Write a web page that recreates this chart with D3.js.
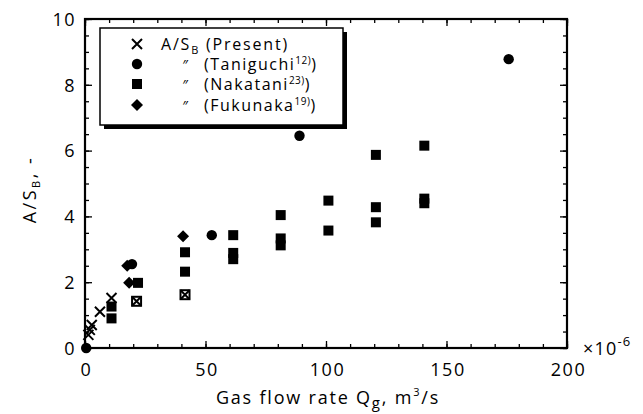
<!DOCTYPE html>
<html><head><meta charset="utf-8">
<script src="https://cdn.jsdelivr.net/npm/d3@7"></script>
<style>
body{margin:0;background:#fff;}
svg{display:block;font-family:"Open Sans",sans-serif;}
</style></head>
<body>
<script>
// ---- data ----
const xTicks = [0, 50, 100, 150, 200];
const yTicks = [0, 2, 4, 6, 8, 10];
const presentQ = [1.4, 2.0, 2.8, 6.2, 11];
const presentA = [0.4, 0.55, 0.7, 1.1, 1.52];
const overlapQ = [21.4, 41.5];          // × on top of a square
const overlapA = [1.42, 1.62];
const taniguchiQ = [0.5, 19.5, 52.6, 89, 175.8];
const taniguchiA = [0, 2.55, 3.43, 6.45, 8.78];
const nakataniQ = [11, 11, 22, 41.5, 41.5, 61.5, 61.5, 61.5, 81.2, 81.2, 81.2, 101, 101, 120.7, 120.7, 120.7, 140.8, 140.8, 140.8];
const nakataniA = [1.26, 0.9, 1.98, 2.91, 2.32, 3.43, 2.89, 2.7, 4.04, 3.33, 3.12, 4.48, 3.57, 5.87, 4.28, 3.82, 6.15, 4.54, 4.4];
const fukunakaQ = [17.5, 18.3, 40.7];
const fukunakaA = [2.5, 1.98, 3.4];
const legendNames = ["Taniguchi", "Nakatani", "Fukunaka"];
const legendRefs = ["12)", "23)", "19)"];

const W = 643, H = 414;
const m = {left: 85, right: 76, top: 19, bottom: 66};
const svg = d3.select("body").append("svg").attr("width", W).attr("height", H);
const x = d3.scaleLinear().domain([0, 200]).range([m.left, W - m.right]);
const y = d3.scaleLinear().domain([0, 10]).range([H - m.bottom, m.top]);
const x0 = x(0), x1 = x(200), y0 = y(0), y1 = y(10);

function addAxis(gen, tf, vals, size, showLabels){
  const g = svg.append("g").attr("transform", tf)
    .call(gen.tickValues(vals).tickSizeInner(-size).tickSizeOuter(0).tickFormat(showLabels ? d3.format("d") : ""));
  g.select(".domain").remove();
  g.selectAll(".tick line").attr("stroke", "#000").attr("stroke-width", 1.3);
  g.selectAll(".tick text").attr("font-size", 18).attr("fill", "#000")
    .attr("font-family", "Open Sans").attr("letter-spacing", 1.5);
  return g;
}
const xMinor = d3.range(0, 201, 10), yMinor = d3.range(0, 10.01, 0.5);
addAxis(d3.axisBottom(x), `translate(0,${y0})`, xMinor, 4, false);
addAxis(d3.axisTop(x), `translate(0,${y1})`, xMinor, 4, false);
addAxis(d3.axisLeft(y), `translate(${x0},0)`, yMinor, 4, false);
addAxis(d3.axisRight(y), `translate(${x1},0)`, yMinor, 4, false);
const gxb = addAxis(d3.axisBottom(x), `translate(0,${y0})`, xTicks, 7, true);
gxb.selectAll(".tick text").attr("dy", 0).attr("y", 28).attr("dx", 1);
addAxis(d3.axisTop(x), `translate(0,${y1})`, xTicks, 7, false);
const gyl = addAxis(d3.axisLeft(y), `translate(${x0},0)`, yTicks, 7, true);
gyl.selectAll(".tick text").attr("x", -9).attr("dy", "0.35em");
addAxis(d3.axisRight(y), `translate(${x1},0)`, yTicks, 7, false);

svg.append("rect").attr("x", x0).attr("y", y1).attr("width", x1 - x0).attr("height", y0 - y1)
  .attr("fill", "none").attr("stroke", "#000").attr("stroke-width", 2.2);

// ×10^-6
const mult = svg.append("text").attr("x", x1 + 16).attr("y", y0 + 7).attr("font-size", 18).attr("letter-spacing", 1.2);
mult.append("tspan").text("×10");
mult.append("tspan").attr("dy", -9).attr("font-size", 13).text("-6");

// axis titles
const xt = svg.append("text").attr("x", (x0 + x1) / 2 + 2).attr("y", 404).attr("text-anchor", "middle")
  .attr("font-size", 18).attr("letter-spacing", 1.8);
xt.append("tspan").text("Gas flow rate Q");
xt.append("tspan").attr("dy", 4).attr("font-size", 15).text("g");
xt.append("tspan").attr("dy", -4).text(", m");
xt.append("tspan").attr("dy", -8).attr("font-size", 11).text("3");
xt.append("tspan").attr("dy", 8).text("/s");

const yt = svg.append("text").attr("transform", `translate(36,${(y0 + y1) / 2 + 6}) rotate(-90)`)
  .attr("text-anchor", "middle").attr("font-size", 18).attr("letter-spacing", 2.5);
yt.append("tspan").text("A/S");
yt.append("tspan").attr("dy", 4).attr("font-size", 11).text("B");
yt.append("tspan").attr("dy", -4).text(",  -");

// markers
const crossPath = s => `M${-s},${-s}L${s},${s}M${-s},${s}L${s},${-s}`;
function drawCross(g, cx, cy){
  g.append("path").attr("transform", `translate(${cx},${cy})`).attr("d", crossPath(5))
    .attr("stroke", "#000").attr("stroke-width", 2).attr("fill", "none");
}
function drawCircle(g, cx, cy){ g.append("circle").attr("cx", cx).attr("cy", cy).attr("r", 5.2).attr("fill", "#000"); }
function drawSquare(g, cx, cy){ g.append("rect").attr("x", cx - 5).attr("y", cy - 5).attr("width", 10).attr("height", 10).attr("fill", "#000"); }
function drawDiamond(g, cx, cy){
  g.append("path").attr("transform", `translate(${cx},${cy})`).attr("d", "M0,-6L6,0L0,6L-6,0Z").attr("fill", "#000");
}
function drawBoxCross(g, cx, cy){
  g.append("rect").attr("x", cx - 4.5).attr("y", cy - 4.5).attr("width", 9).attr("height", 9)
    .attr("fill", "#fff").attr("stroke", "#000").attr("stroke-width", 2);
  g.append("path").attr("transform", `translate(${cx},${cy})`).attr("d", crossPath(4.5))
    .attr("stroke", "#000").attr("stroke-width", 2);
}
const pts = svg.append("g");
nakataniQ.forEach((q, i) => drawSquare(pts, x(q), y(nakataniA[i])));
fukunakaQ.forEach((q, i) => drawDiamond(pts, x(q), y(fukunakaA[i])));
taniguchiQ.forEach((q, i) => drawCircle(pts, x(q), y(taniguchiA[i])));
presentQ.forEach((q, i) => drawCross(pts, x(q), y(presentA[i])));
overlapQ.forEach((q, i) => drawBoxCross(pts, x(q), y(overlapA[i])));

// legend
const lg = svg.append("g");
const lx = 100, ly = 28, lw = 243, lh = 97;
lg.append("rect").attr("x", lx + 4).attr("y", ly + 4).attr("width", lw).attr("height", lh).attr("fill", "#000");
lg.append("rect").attr("x", lx).attr("y", ly).attr("width", lw).attr("height", lh)
  .attr("fill", "#fff").attr("stroke", "#000").attr("stroke-width", 1.5);
const rowY = [44, 64, 84, 105];
drawCross(lg, 137, rowY[0]);
drawCircle(lg, 137, rowY[1]);
drawSquare(lg, 137, rowY[2]);
drawDiamond(lg, 137, rowY[3]);
const t0 = lg.append("text").attr("x", 161).attr("y", rowY[0] + 6).attr("font-size", 16).attr("letter-spacing", 1.8);
t0.append("tspan").text("A/S");
t0.append("tspan").attr("dy", 4).attr("font-size", 11).text("B");
t0.append("tspan").attr("dy", -4).text(" (Present)");
legendNames.forEach((n, i) => {
  const yy = rowY[i + 1] + 6;
  lg.append("text").attr("x", 182).attr("y", yy).attr("font-size", 14).attr("font-style", "italic").text("″");
  const t = lg.append("text").attr("x", 204).attr("y", yy).attr("font-size", 16).attr("letter-spacing", 1.5);
  t.append("tspan").text("(" + n);
  t.append("tspan").attr("dy", -6).attr("font-size", 10).attr("letter-spacing", 0.5).text(legendRefs[i]);
  t.append("tspan").attr("dy", 6).text(")");
});
</script>
</body></html>
